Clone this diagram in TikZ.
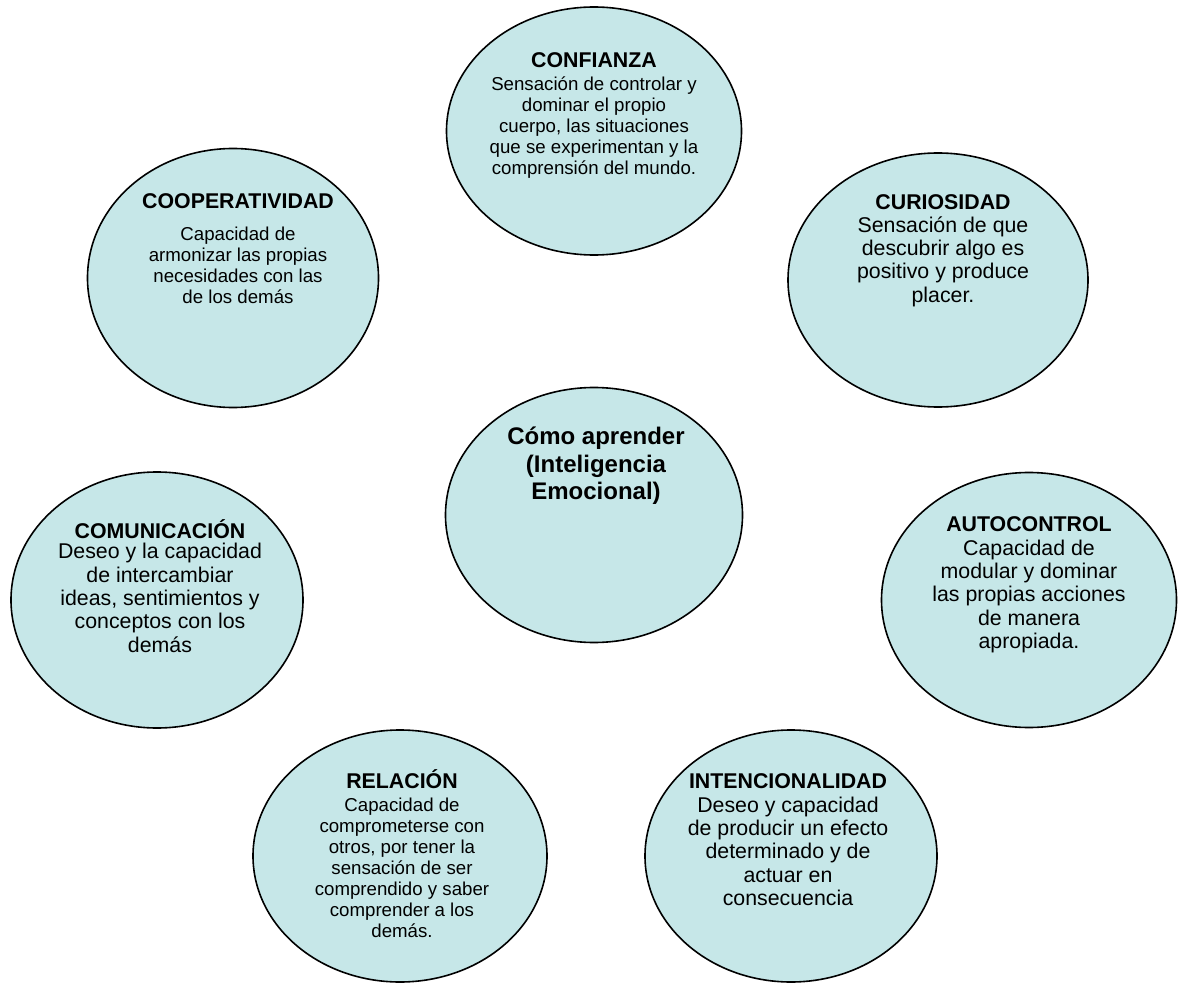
\documentclass[tikz,border=0pt]{standalone}
\usepackage{fontspec}
\setmainfont{Liberation Sans}
\usepackage{tikz}
\usetikzlibrary{
    shapes.geometric,
    positioning
}

\newcommand{\bubtitle}[1]{{\fontsize{16}{17.5}\selectfont\bfseries\rule{0pt}{16pt}#1}}

\begin{document}
\begin{tikzpicture}[
    x=0.75pt,
    y=-0.75pt,
    bubble/.style={
        draw=black,
        line width=1.2pt,
        fill=bubfill,
        ellipse,
        inner sep=0pt,
        anchor=center
    },
    smalltxt/.style={
        align=center,
        anchor=north,
        inner sep=0pt,
        font=\fontsize{14}{15.75}\selectfont
    },
    bigtxt/.style={
        align=center,
        anchor=north,
        inner sep=0pt,
        font=\fontsize{16}{17.5}\selectfont
    }]
    \definecolor{bubfill}{RGB}{198, 231, 232}

    \useasboundingbox (0,0) rectangle (1178,984);

    \node[bubble, minimum width=221.25pt, minimum height=186pt] (confianza) at (594,131) {};
    \node[bubble, minimum width=218.25pt, minimum height=194.25pt] (cooperatividad) at (233,278) {};
    \node[bubble, minimum width=225pt, minimum height=190.5pt] (curiosidad) at (938,280) {};
    \node[bubble, minimum width=222.75pt, minimum height=191.25pt] (aprender) at (594,515) {};
    \node[bubble, minimum width=219pt, minimum height=192pt] (comunicacion) at (157,600) {};
    \node[bubble, minimum width=221.25pt, minimum height=191.25pt] (autocontrol) at (1029,600) {};
    \node[bubble, minimum width=220.5pt, minimum height=189pt] (relacion) at (400,856) {};
    \node[bubble, minimum width=219pt, minimum height=189pt] (intencionalidad) at (791,856) {};

    \node[smalltxt] (confianzaTxt) at (594,46.2) {\bubtitle{CONFIANZA}\\[1.1pt]
        Sensación de controlar y\\dominar el propio\\cuerpo, las situaciones\\
        que se experimentan y la\\comprensión del mundo.};
    \node[smalltxt] (cooperatividadTxt) at (238,186.7) {\bubtitle{COOPERATIVIDAD}\\[8.25pt]
        Capacidad de\\armonizar las propias\\necesidades con las\\de los demás};
    \node[bigtxt] (curiosidadTxt) at (943,187.4) {\bubtitle{CURIOSIDAD}\\
        Sensación de que\\descubrir algo es\\positivo y produce\\placer.};
    \node[align=center, anchor=north, inner sep=0pt, font=\fontsize{18}{20.8}\selectfont\bfseries]
        (aprenderTxt) at (596,422.7) {\rule{0pt}{16pt}Cómo aprender\\(Inteligencia\\Emocional)};
    \node[bigtxt] (comunicacionTxt) at (160,516.4) {\bubtitle{COMUNICACIÓN}\\[-2pt]
        Deseo y la capacidad\\de intercambiar\\ideas, sentimientos y\\conceptos con los\\demás};
    \node[bigtxt] (autocontrolTxt) at (1029,509.7) {\bubtitle{AUTOCONTROL}\\[0.5pt]
        Capacidad de\\modular y dominar\\las propias acciones\\de manera\\apropiada.};
    \node[smalltxt] (relacionTxt) at (402,766.7) {\bubtitle{RELACIÓN}\\[2pt]
        Capacidad de\\comprometerse con\\otros, por tener la\\sensación de ser\\
        comprendido y saber\\comprender a los\\demás.};
    \node[bigtxt] (intencionalidadTxt) at (788,766.4) {\bubtitle{INTENCIONALIDAD}\\[0.5pt]
        Deseo y capacidad\\de producir un efecto\\determinado y de\\actuar en\\consecuencia};

\end{tikzpicture}
\end{document}
